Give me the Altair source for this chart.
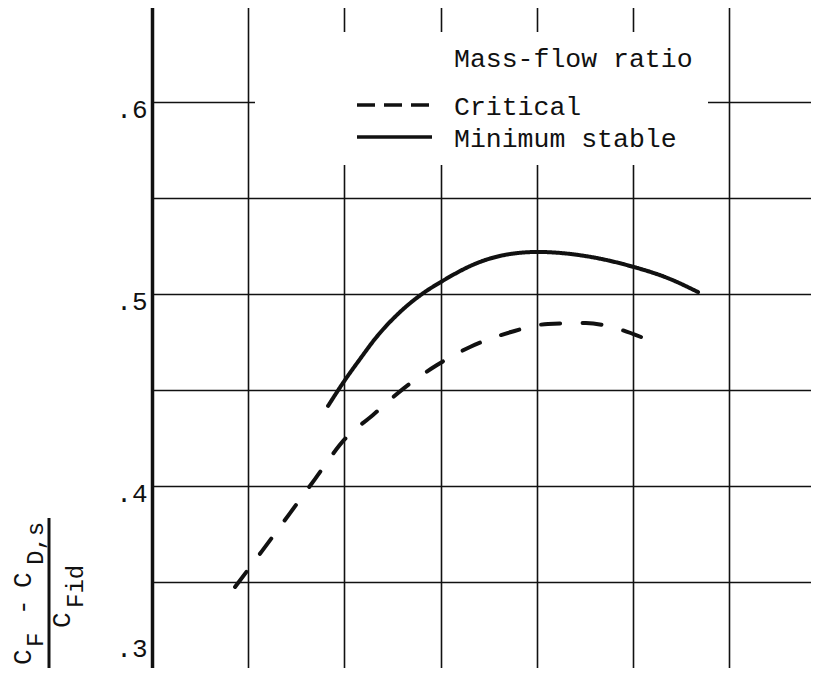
import altair as alt
import pandas as pd

FONT = "Liberation Mono"
INK = "#111111"

# ---- data (x in grid units, y = (CF - CD,s)/CFid) ----
crit_x = [0.863, 1.143, 1.435, 1.694, 2.006, 2.297, 2.620, 2.963, 3.306, 3.732, 4.116, 4.511, 4.813, 5.083]
crit_y = [0.3474, 0.3661, 0.3859, 0.4036, 0.4245, 0.4370, 0.4510, 0.4630, 0.4724, 0.4802, 0.4844, 0.4849, 0.4823, 0.4776]

stab_x = [1.830, 2.006, 2.162, 2.318, 2.578, 2.807, 3.004, 3.410, 3.721, 4.012, 4.501, 4.969, 5.385, 5.676]
stab_y = [0.4417, 0.4552, 0.4661, 0.4766, 0.4906, 0.5000, 0.5063, 0.5167, 0.5208, 0.5219, 0.5198, 0.5146, 0.5078, 0.5010]

series_names = ["Critical", "Minimum stable"]
legend_title = "Mass-flow ratio"

x_grid = [0, 1, 2, 3, 4, 5, 6]
y_grid = [0.3, 0.35, 0.4, 0.45, 0.5, 0.55, 0.6, 0.65]
y_tick_values = [0.3, 0.4, 0.5, 0.6]
y_tick_labels = [".3", ".4", ".5", ".6"]

# ---- layout (plot area origin at page (152, 6)) ----
W, H = 659, 672
OX, OY = 152, 6


def px(x):
    return x - OX


def py(y):
    return y - OY


rows = []
for name, xs, ys in [(series_names[0], crit_x, crit_y), (series_names[1], stab_x, stab_y)]:
    for i, (a, b) in enumerate(zip(xs, ys)):
        rows.append({"series": name, "x": a, "y": b, "order": i})
df = pd.DataFrame(rows)

x_scale = alt.Scale(domain=[0, W / 96.2], nice=False, zero=False)
y_scale = alt.Scale(domain=[0.3, 0.65], nice=False, zero=False)

label_expr = " : ".join(
    f"abs(datum.value - {v}) < 1e-6 ? '{t}'" for v, t in zip(y_tick_values, y_tick_labels)
) + " : ''"

one = alt.Data(values=[{"k": 0}])

curves = alt.Chart(df).mark_line(
    color=INK, strokeWidth=4, strokeCap="round", interpolate="monotone"
).encode(
    x=alt.X("x:Q", scale=x_scale,
            axis=alt.Axis(values=x_grid, grid=True, labels=False, ticks=False, title=None,
                          domainWidth=3, domainColor=INK, gridColor=INK, gridWidth=1.6,
                          gridOpacity=1)),
    y=alt.Y("y:Q", scale=y_scale,
            axis=alt.Axis(values=y_grid, grid=True, ticks=False, title=None,
                          labelExpr=label_expr, labelFont=FONT, labelFontSize=26,
                          labelColor=INK, labelPadding=5, labelBaseline="alphabetic",
                          labelOffset={"condition": {"test": "datum.value < 0.31", "value": -22},
                                       "value": 15},
                          domainWidth=3.5, domainColor=INK, gridColor=INK, gridWidth=1.6,
                          gridOpacity=1)),
    strokeDash=alt.StrokeDash("series:N",
                              scale=alt.Scale(domain=series_names, range=[[19, 22.5], [1, 0]]),
                              legend=None),
    detail="series:N",
    order="order:Q",
)

# white legend box over the grid
box = alt.Chart(one).mark_rect(fill="white", stroke=None).encode(
    x=alt.value(px(255)), x2=alt.value(px(708)),
    y=alt.value(py(32)), y2=alt.value(py(165)),
)

# top border
top_rule = alt.Chart(one).mark_rule(color=INK, strokeWidth=3).encode(
    x=alt.value(-2), x2=alt.value(W), y=alt.value(0)
)


def text(txt, x, y, size=26.5, angle=0, align="left", baseline="alphabetic"):
    return alt.Chart(alt.Data(values=[{"t": txt}])).mark_text(
        font=FONT, fontSize=size, angle=angle, align=align, baseline=baseline, color=INK
    ).encode(text="t:N", x=alt.value(px(x)), y=alt.value(py(y)))


legend_dash = alt.Chart(one).mark_rule(color=INK, strokeWidth=3.5, strokeDash=[18, 9]).encode(
    x=alt.value(px(357)), x2=alt.value(px(432)), y=alt.value(py(105))
)
legend_solid = alt.Chart(one).mark_rule(color=INK, strokeWidth=3.5).encode(
    x=alt.value(px(357)), x2=alt.value(px(432)), y=alt.value(py(137))
)

legend_texts = [
    text(legend_title, 454, 67),
    text(series_names[0], 454, 115),
    text(series_names[1], 454, 147),
]

# y-axis title drawn as a typed fraction: (C_F - C_D,s) / C_Fid
title_parts = [
    text("C", 31, 665, size=26, angle=270),
    text("F", 43, 647, size=24, angle=270),
    text("-", 31, 615, size=26, angle=270),
    text("C", 31, 588, size=26, angle=270),
    text("D,s", 43, 565, size=24, angle=270),
    text("C", 70, 628, size=26, angle=270),
    text("Fid", 83, 608, size=24, angle=270),
]
frac_bar = alt.Chart(one).mark_rule(color=INK, strokeWidth=3).encode(
    x=alt.value(px(49)), y=alt.value(py(518)), y2=alt.value(py(690))
)

chart = alt.layer(
    curves, box, top_rule, legend_dash, legend_solid, *legend_texts, *title_parts, frac_bar
).properties(
    width=W, height=H,
    autosize="none",
    padding={"left": 144, "top": -2, "right": 0, "bottom": -10},
    background="white",
).configure_view(stroke=None)

chart.save("out.html", embed_options={"renderer": "svg", "actions": False})
